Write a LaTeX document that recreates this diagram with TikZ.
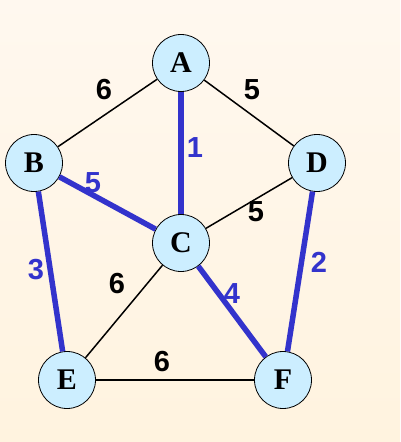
\documentclass[tikz,border=0pt]{standalone}
\usepackage{fontspec}
\setmainfont{Liberation Serif}
\newfontfamily\numfont{Liberation Sans}
\definecolor{bgtop}{HTML}{FFF8EF}
\definecolor{bgbot}{HTML}{FFF3DF}
\definecolor{nodefill}{HTML}{CCEEFF}
\definecolor{mstblue}{HTML}{3333CC}
\tikzset{
  vertex/.style={circle,draw=black,line width=0.8pt,fill=nodefill,minimum size=57pt,inner sep=0pt,
    font=\bfseries\fontsize{30}{30}\selectfont},
  plain/.style={draw=black,line width=1.5pt},
  tree/.style={draw=mstblue,line width=5.5pt},
  wlab/.style={font=\numfont\bfseries\fontsize{29}{29}\selectfont,text=black},
  tlab/.style={font=\numfont\bfseries\fontsize{29}{29}\selectfont,text=mstblue}
}
\begin{document}
\begin{tikzpicture}[x=1pt,y=-1pt]
\shade[top color=bgtop,bottom color=bgbot] (0,0) rectangle (400,442);
\useasboundingbox (0,0) rectangle (400,442);
\node[vertex] (A) at (181,63) {A};
\node[vertex] (B) at (34,163) {B};
\node[vertex] (D) at (317,163) {D};
\node[vertex] (C) at (181,243) {C};
\node[vertex] (E) at (67,380) {E};
\node[vertex] (F) at (283,380) {F};
\path[plain] (A) -- (B);
\path[plain] (A) -- (D);
\path[plain] (C) -- (D);
\path[plain] (C) -- (E);
\path[plain] (E) -- (F);
\path[tree] (A) -- (C);
\path[tree] (B) -- (C);
\path[tree] (B) -- (E);
\path[tree] (C) -- (F);
\path[tree] (D) -- (F);
\node[wlab] (wAB) at (104,90) {6};
\node[wlab] (wAD) at (252,90) {5};
\node[tlab] (wAC) at (195,148) {1};
\node[tlab] (wBC) at (93,183) {5};
\node[wlab] (wCD) at (256,212) {5};
\node[tlab] (wBE) at (36,270) {3};
\node[wlab] (wCE) at (117,284) {6};
\node[tlab] (wCF) at (232,294) {4};
\node[tlab] (wDF) at (319,262) {2};
\node[wlab] (wEF) at (162,362) {6};
\end{tikzpicture}
\end{document}
